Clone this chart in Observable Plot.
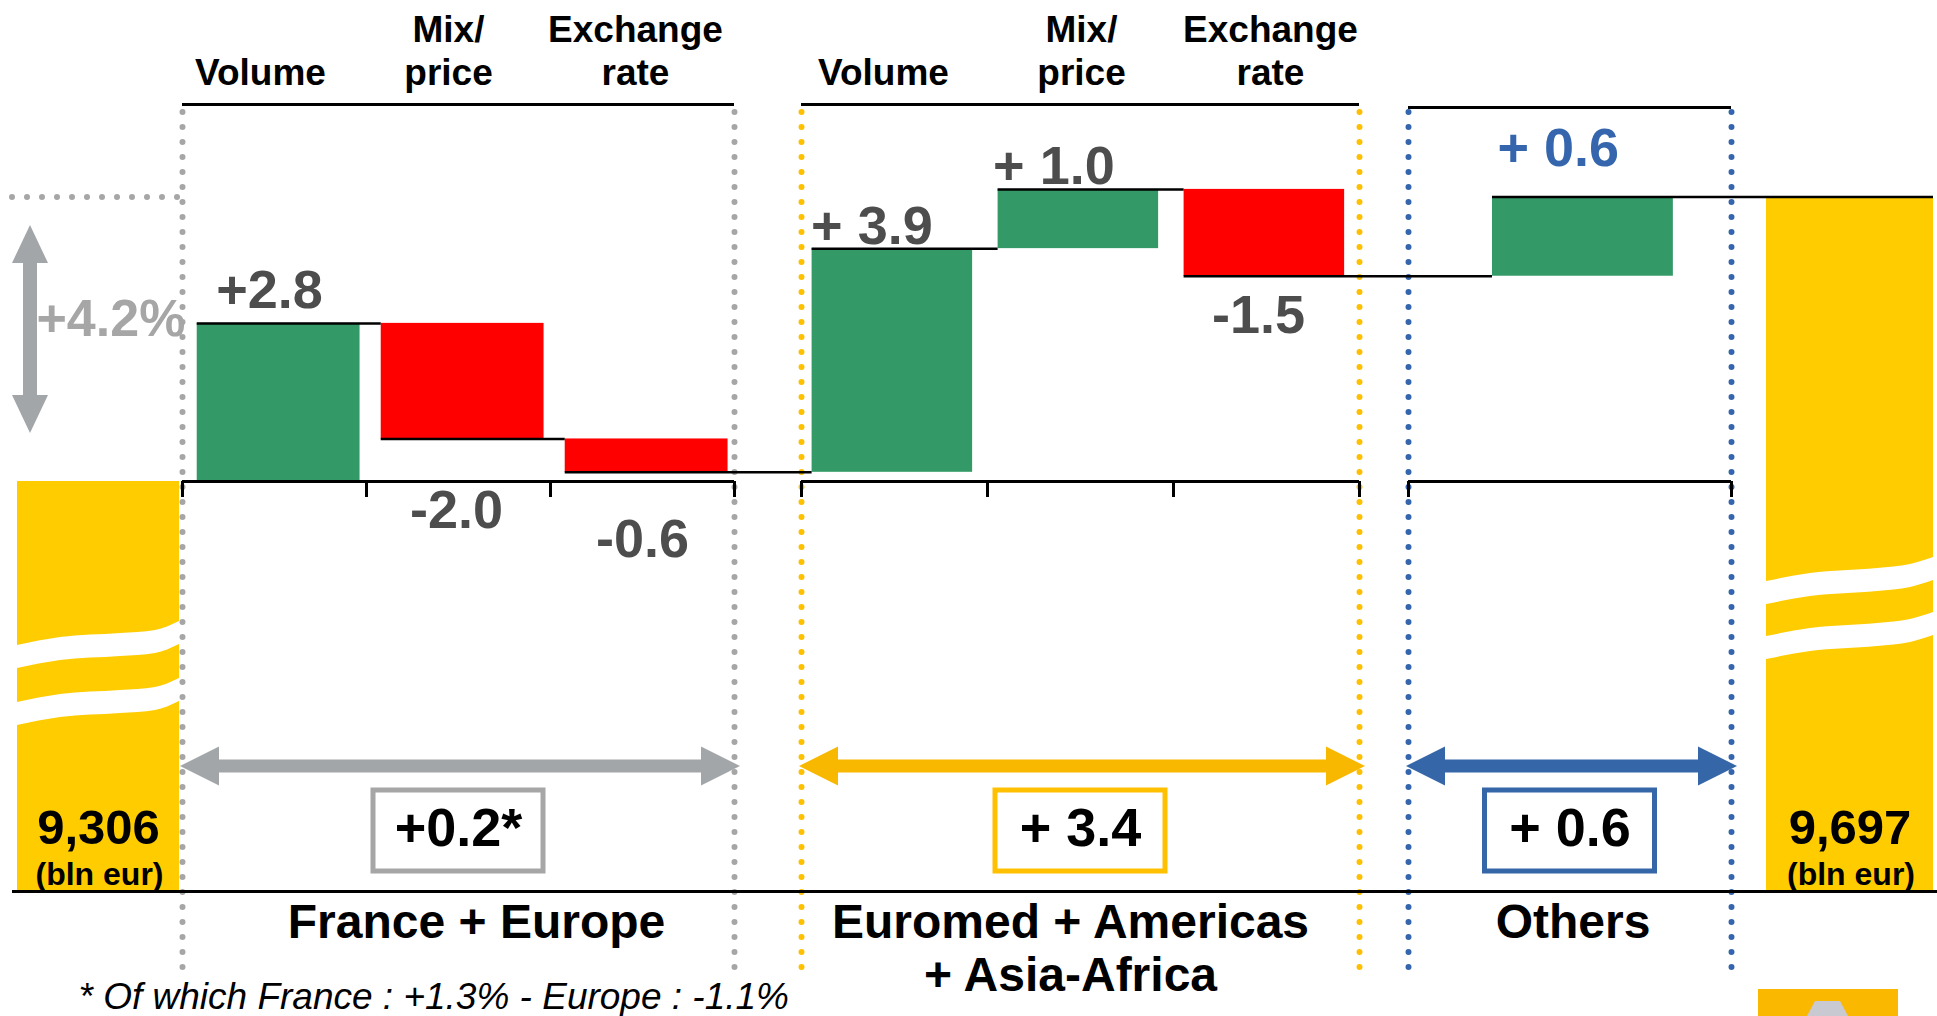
<!DOCTYPE html>
<html>
<head>
<meta charset="utf-8">
<script src="https://cdn.jsdelivr.net/npm/d3@7"></script>
<script src="https://cdn.jsdelivr.net/npm/@observablehq/plot@0.6"></script>
<style>
  html, body { margin: 0; padding: 0; background: #fff; overflow: hidden; }
</style>
</head>
<body>
<div id="chart"></div>
<script>
// ---------------- DATA ----------------
const stepNames   = ["Volume", "Mix/\nprice", "Exchange\nrate", "Volume", "Mix/\nprice", "Exchange\nrate", "Others"];
const stepGroup   = [0, 0, 0, 1, 1, 1, 2];
const stepDeltas  = [2.8, -2.0, -0.6, 3.9, 1.0, -1.5, 0.6];
const stepLabels  = ["+2.8", "-2.0", "-0.6", "+ 3.9", "+ 1.0", "-1.5", "+ 0.6"];
// cumulative levels (percentage points) as drawn in the picture
const drawnLevels = [0, 2.75, 0.74, 0.16, 4.05, 5.08, 3.57, 4.95];
const groupNames  = ["France + Europe", "Euromed + Americas\n+ Asia-Africa", "Others"];
const groupTotals = ["+0.2*", "+ 3.4", "+ 0.6"];
const totalValues = ["9,306", "9,697"];
const totalUnit   = "(bln eur)";
const growthLabel = "+4.2%";
const footnote    = "* Of which France : +1.3% - Europe : -1.1%";

// ---------------- LAYOUT ----------------
const W = 1937, H = 1016;
const PX0 = 182, SLOT = 184, BASE = 481, UNIT = 57.5;
const ux = p => (p - PX0) / SLOT;      // pixel -> x slot units
const ly = p => (BASE - p) / UNIT;     // pixel -> level units
const FONT = "'Liberation Sans', Arial, Helvetica, sans-serif";
const GREEN = "#339966", RED = "#ff0000", YELLOW = "#ffcc00";

const groupLayout = [
  {x0: ux(182),  x1: ux(734),  inset: [0.08, 0.965], nameDx: 18, dot: "#a6a6a6", arrow: "#a3a6a9", box: "#a6a6a6", label: "#4d4d4d", hdr: ly(104)},
  {x0: ux(801),  x1: ux(1359), inset: [0.057, 0.92], nameDx: -10, dot: "#ffc000", arrow: "#f9b800", box: "#ffc000", label: "#4d4d4d", hdr: ly(104)},
  {x0: ux(1408), x1: ux(1731), inset: [0.26, 0.82], nameDx: 3, dot: "#3566ad", arrow: "#3566a8", box: "#3566a8", label: "#3566ad", hdr: ly(107)}
];
const labelDy  = [-15, 89, 85, -5, -5, 57, -31];   // px offsets of value labels from bar end
const labelDx  = [19, -2, 0, -1, -5, -8, 5];
const headerDx = [-14, -10, -7, -11, 1, 4, 0];

const groupSizes = groupNames.map((_, g) => stepGroup.filter(s => s === g).length);
const steps = stepDeltas.map((delta, i) => {
  const g = stepGroup[i];
  const k = stepGroup.slice(0, i).filter(s => s === g).length;
  const n = groupSizes[g];
  const G = groupLayout[g];
  const s = (G.x1 - G.x0) / n;
  const bx0 = G.x0 + (k + G.inset[0]) * s;
  const bx1 = G.x0 + (k + G.inset[1]) * s;
  const cx = G.x0 + (k + 0.5) * s;
  const from = drawnLevels[i], to = drawnLevels[i + 1];
  const lo = Math.min(from, to), hi = Math.max(from, to);
  return {
    i, g, k, n, delta, name: stepNames[i], label: stepLabels[i],
    bx0, bx1, cx, from, to, lo, hi,
    hx: cx + headerDx[i] / SLOT,
    fill: delta > 0 ? GREEN : RED,
    lx: (delta > 0 ? bx0 : cx) + labelDx[i] / SLOT,
    lyv: (delta > 0 ? hi : lo) - labelDy[i] / UNIT,
    lcolor: G.label
  };
});
const posSteps = steps.filter(s => s.delta > 0);
const negSteps = steps.filter(s => s.delta < 0);

const floorLevel = ly(891);
const totals = [
  {x1: ux(17), x2: ux(179), top: drawnLevels[0], value: totalValues[0]},
  {x1: ux(1766), x2: ux(1933), top: drawnLevels[drawnLevels.length - 1], value: totalValues[1]}
];

// connectors: from left of bar i to left of next bar (or right end of final total)
const connectors = steps.map((s, i) => ({
  x1: s.bx0,
  x2: i < steps.length - 1 ? steps[i + 1].bx0 : totals[1].x2,
  y: s.to
}));

// axis ticks per group
const ticks = [];
groupLayout.forEach((G, g) => {
  const n = groupSizes[g];
  d3.range(n + 1).forEach(k => ticks.push({x: G.x0 + k * (G.x1 - G.x0) / n}));
});

// double arrows (filled polygons via area)
function hArrow(xa, xb, yc, color) {
  const h = 39 / SLOT, hw = 19.5 / UNIT, sw = 6.5 / UNIT;
  return [
    {x: xa, y1: yc, y2: yc, c: color},
    {x: xa + h, y1: yc - hw, y2: yc + hw, c: color},
    {x: xa + h, y1: yc - sw, y2: yc + sw, c: color},
    {x: xb - h, y1: yc - sw, y2: yc + sw, c: color},
    {x: xb - h, y1: yc - hw, y2: yc + hw, c: color},
    {x: xb, y1: yc, y2: yc, c: color}
  ];
}
const arrowRow = ly(766);
const hArrows = groupLayout.map(G => hArrow(G.x0 - 2 / SLOT, G.x1 + 6 / SLOT, arrowRow, G.arrow));

function vArrow(xc, ya, yb, color) { // ya top level, yb bottom level
  const h = 38 / UNIT, hw = 18 / SLOT, sw = 7 / SLOT;
  return [
    {y: ya, x1: xc, x2: xc, c: color},
    {y: ya - h, x1: xc - hw, x2: xc + hw, c: color},
    {y: ya - h, x1: xc - sw, x2: xc + sw, c: color},
    {y: yb + h, x1: xc - sw, x2: xc + sw, c: color},
    {y: yb + h, x1: xc - hw, x2: xc + hw, c: color},
    {y: yb, x1: xc, x2: xc, c: color}
  ];
}
const growthArrow = vArrow(ux(30), ly(225), ly(433), "#a3a6a9");

// wavy break stripes on the total bars
function stripe(points, offset, thick, id) {
  return points.map(([px, py]) => ({x: ux(px), y1: ly(py + offset), y2: ly(py + offset + thick), id}));
}
const leftWave = [[17, 645], [60, 637], [120, 633], [155, 630], [179, 621]];
const rightWave = [[1766, 581], [1810, 573], [1877, 568], [1910, 564], [1933, 557]];
const stripes = [
  ...stripe(leftWave, 0, 23, "l1"), ...stripe(leftWave, 57, 23, "l2"),
  ...stripe(rightWave, 0, 23, "r1"), ...stripe(rightWave, 55, 23, "r2")
];

// boxes with group totals
const boxes = groupLayout.map((G, g) => {
  const c = (G.x0 + G.x1) / 2;
  return {x1: c - 85 / SLOT, x2: c + 85 / SLOT, y1: ly(871), y2: ly(790), c, stroke: G.box, text: groupTotals[g]};
});

const headers = steps.filter(s => s.n > 1);

const logoShape = [
  {x: ux(1807), y1: ly(1016), y2: ly(1016)},
  {x: ux(1815), y1: ly(1016), y2: ly(1001)},
  {x: ux(1840), y1: ly(1016), y2: ly(1001)},
  {x: ux(1848), y1: ly(1016), y2: ly(1016)}
];

const dotted = {strokeWidth: 6, strokeDasharray: "0,15", strokeLinecap: "round"};
const valueText = {text: "label", fontSize: 54, fontWeight: "bold", fill: "lcolor", lineAnchor: "bottom"};

const chart = Plot.plot({
  width: W, height: H,
  margin: 0,
  x: {domain: [ux(0), ux(W)], axis: null},
  y: {domain: [ly(H), ly(0)], axis: null},
  color: {type: "identity"},
  style: {fontFamily: FONT, background: "#fff", overflow: "visible"},
  marks: [
    // group dotted boundaries
    Plot.ruleX(groupLayout.flatMap(G => [{x: G.x0, c: G.dot}, {x: G.x1, c: G.dot}]),
      {x: "x", y1: ly(112), y2: ly(978), stroke: "c", ...dotted}),
    // gray dotted line at the final level
    Plot.ruleY([drawnLevels[drawnLevels.length - 1]], {x1: ux(12), x2: ux(188), stroke: "#a6a6a6", ...dotted}),
    // total bars
    Plot.rect(totals, {x1: "x1", x2: "x2", y1: floorLevel, y2: "top", fill: YELLOW}),
    Plot.areaY(stripes, {x: "x", y1: "y1", y2: "y2", z: "id", fill: "#fff", curve: "monotone-x"}),
    Plot.text(totals, {x: d => (d.x1 + d.x2) / 2, y: ly(843), text: "value", fontSize: 49, fontWeight: "bold", fill: "#000", lineAnchor: "bottom"}),
    Plot.text(totals, {x: d => (d.x1 + d.x2) / 2 + 1 / SLOT, y: ly(884), text: () => totalUnit, fontSize: 32, fontWeight: "bold", fill: "#000", lineAnchor: "bottom"}),
    // waterfall bars
    Plot.rect(steps, {x1: "bx0", x2: "bx1", y1: "lo", y2: "hi", fill: "fill"}),
    // connectors
    Plot.ruleY(connectors, {y: "y", x1: "x1", x2: "x2", stroke: "#000", strokeWidth: 2.5}),
    // group baselines and ticks
    Plot.ruleY(groupLayout, {y: 0, x1: "x0", x2: "x1", stroke: "#000", strokeWidth: 3}),
    Plot.ruleX(ticks, {x: "x", y1: 0, y2: ly(497), stroke: "#000", strokeWidth: 3}),
    // header rules
    Plot.ruleY(groupLayout, {y: "hdr", x1: "x0", x2: "x1", stroke: "#000", strokeWidth: 3}),
    // header labels
    Plot.text(headers, {x: "hx", y: ly(84), text: "name", fontSize: 37, fontWeight: "bold", fill: "#000", lineAnchor: "bottom", lineHeight: 1.16}),
    // value labels
    Plot.text(posSteps, {x: "lx", y: "lyv", textAnchor: "start", ...valueText}),
    Plot.text(negSteps, {x: "lx", y: "lyv", textAnchor: "middle", ...valueText}),
    // growth arrow and label
    Plot.areaX(growthArrow, {y: "y", x1: "x1", x2: "x2", fill: "c"}),
    Plot.text([growthLabel], {x: ux(36), y: ly(335), text: d => d, textAnchor: "start", fontSize: 52, fontWeight: "bold", fill: "#a6a6a6", lineAnchor: "bottom"}),
    // double arrows
    ...hArrows.map(a => Plot.areaY(a, {x: "x", y1: "y1", y2: "y2", fill: "c"})),
    // total boxes
    Plot.rect(boxes, {x1: "x1", x2: "x2", y1: "y1", y2: "y2", fill: "#fff", stroke: "stroke", strokeWidth: 5}),
    Plot.text(boxes, {x: "c", y: ly(845), text: "text", fontSize: 54, fontWeight: "bold", fill: "#000", lineAnchor: "bottom"}),
    // bottom line
    Plot.ruleY([floorLevel], {x1: ux(12), x2: ux(W), stroke: "#000", strokeWidth: 3}),
    // group names
    Plot.text(groupLayout, {x: d => (d.x0 + d.x1) / 2 + d.nameDx / SLOT, y: ly(899), text: (d, g) => groupNames[g], fontSize: 48, fontWeight: "bold", fill: "#000", lineAnchor: "top", lineHeight: 1.12}),
    // footnote
    Plot.text([footnote], {x: ux(78), y: ly(1008), text: d => d, textAnchor: "start", fontSize: 37, fontStyle: "italic", fill: "#000", lineAnchor: "bottom"}),
    // logo corner
    Plot.rect([0], {x1: ux(1758), x2: ux(1898), y1: ly(1016), y2: ly(989), fill: "#fbb800"}),
    Plot.areaY(logoShape, {x: "x", y1: "y1", y2: "y2", fill: "#c9c9d2"})
  ]
});
document.getElementById("chart").appendChild(chart);
</script>
</body>
</html>
